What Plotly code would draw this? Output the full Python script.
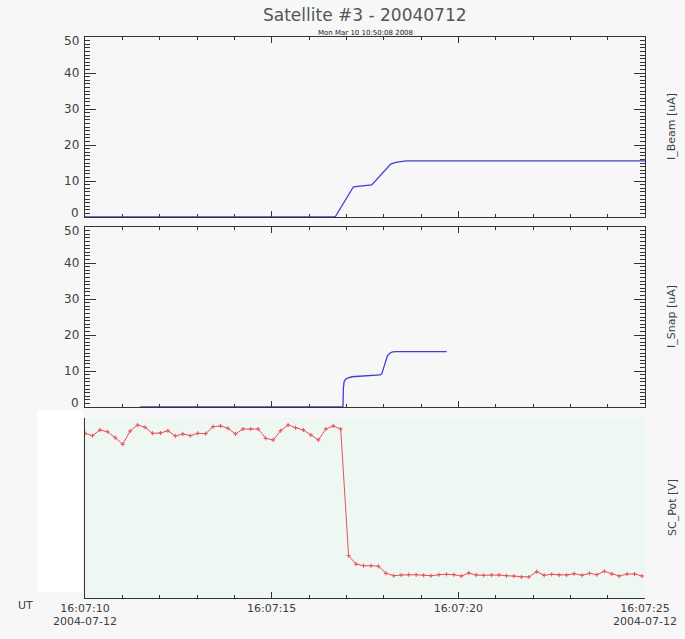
import pandas as pd
import plotly.graph_objects as go

# ---------------- data ----------------
T0 = "2004-07-12 16:07:10"

# I_Beam [uA]  (seconds after 16:07:10, value)
beam_t = [0.00, 6.70, 7.19, 7.42, 7.68, 8.19, 8.30, 8.45, 8.62, 15.00]
beam_v = [0.0, 0.0, 8.4, 8.6, 8.9, 14.7, 15.1, 15.4, 15.6, 15.6]

# I_Snap [uA]
snap_t = [1.47, 6.91, 6.92, 6.94, 6.98, 7.05, 7.15, 7.37, 7.90, 7.95, 7.99, 8.04,
          8.10, 8.17, 8.24, 8.35, 9.69]
snap_v = [0.0, 0.0, 5.0, 7.0, 7.7, 8.1, 8.4, 8.6, 8.9, 9.2, 10.4, 12.5,
          14.2, 15.0, 15.3, 15.4, 15.4]

# SC_Pot [V]
pot_t = [0.00, 0.20, 0.40, 0.60, 0.81, 1.01, 1.21, 1.41, 1.61, 1.81,
         2.02, 2.22, 2.42, 2.62, 2.82, 3.02, 3.23, 3.43, 3.63, 3.83,
         4.03, 4.23, 4.44, 4.64, 4.84, 5.04, 5.24, 5.44, 5.64, 5.85,
         6.05, 6.25, 6.45, 6.65, 6.85, 7.06, 7.26, 7.46, 7.66, 7.86,
         8.06, 8.27, 8.47, 8.67, 8.87, 9.07, 9.27, 9.48, 9.68, 9.88,
         10.08, 10.28, 10.48, 10.68, 10.89, 11.09, 11.29, 11.49, 11.69, 11.89,
         12.10, 12.30, 12.50, 12.70, 12.90, 13.10, 13.31, 13.51, 13.71, 13.91,
         14.11, 14.31, 14.52, 14.72, 14.92]
pot_v = [45.75, 45.08, 46.67, 46.19, 44.53, 42.69, 46.39, 48.06, 47.42, 45.75,
         45.83, 46.47, 45.00, 45.56, 45.08, 45.75, 45.64, 47.58, 47.78, 47.14,
         45.56, 46.94, 46.94, 46.94, 44.36, 43.89, 46.47, 48.06, 47.31, 46.67,
         45.28, 43.89, 46.94, 47.78, 46.94, 11.75, 9.44, 8.97, 8.97, 8.81,
         6.86, 6.19, 6.39, 6.47, 6.47, 6.31, 6.19, 6.47, 6.58, 6.47,
         6.11, 6.94, 6.39, 6.31, 6.39, 6.39, 6.19, 6.11, 5.83, 5.83,
         7.31, 6.31, 6.58, 6.39, 6.39, 6.75, 6.31, 6.86, 6.47, 7.42,
         6.67, 6.11, 6.67, 6.67, 6.11]

tick_secs = [0, 5, 10, 15]
tick_text = ["16:07:10", "16:07:15", "16:07:20", "16:07:25"]
date_secs = [0, 15]
date_text = "2004-07-12"
y_ticks = [0, 10, 20, 30, 40, 50]

title_text = "Satellite #3 - 20040712"
subtitle_text = "Mon Mar 10 10:50:08 2008"
panel_labels = ["I_Beam [uA]", "I_Snap [uA]", "SC_Pot [V]"]


def to_time(secs):
    return pd.Timestamp(T0) + pd.to_timedelta(secs, unit="s")


# ---------------- figure ----------------
W, H = 685, 639
L, R, TOP, BOT = 85, 40, 37, 41
ph = H - TOP - BOT  # plot height in px


def py(pix):  # pixel y -> paper y
    return (H - BOT - pix) / ph


def px(pix):
    return (pix - L) / (W - L - R)


BLUE = "#3f3fd6"
RED = "#e8505c"
AX = "#333333"
TXT = "#404040"
BG = "#f7f7f7"
FONT = "DejaVu Sans"

fig = go.Figure()
fig.add_trace(go.Scatter(x=to_time(beam_t), y=beam_v, mode="lines",
                         line=dict(color=BLUE, width=1.3), xaxis="x3", yaxis="y3"))
fig.add_trace(go.Scatter(x=to_time(snap_t), y=snap_v, mode="lines",
                         line=dict(color=BLUE, width=1.3), xaxis="x2", yaxis="y2"))
fig.add_trace(go.Scatter(x=to_time(pot_t), y=pot_v, mode="lines+markers",
                         line=dict(color=RED, width=1),
                         marker=dict(symbol="cross-thin", size=3, color=RED,
                                     line=dict(color=RED, width=1)),
                         xaxis="x", yaxis="y"))

x_range = [to_time(0), to_time(15)]
tickvals = list(to_time(tick_secs))

xcommon = dict(range=x_range, type="date", showline=True, linecolor=AX, linewidth=1,
               ticks="inside", ticklen=6, tickcolor=AX, tickvals=tickvals,
               minor=dict(dtick=1000, tick0=T0, ticks="inside", ticklen=3, tickcolor=AX),
               showgrid=False, zeroline=False, layer="below traces", fixedrange=True)

ycommon = dict(range=[0, 50], showline=True, linecolor=AX, linewidth=1, mirror="ticks",
               ticks="inside", ticklen=11, tickcolor=AX, tickvals=y_ticks,
               showticklabels=False,
               minor=dict(dtick=1, ticks="inside", ticklen=5, tickcolor=AX),
               showgrid=False, zeroline=False, layer="below traces", fixedrange=True)

d3 = [0, py(418)]
d2 = [py(407), py(227)]
d1 = [py(217), 1]

fig.update_layout(
    width=W, height=H,
    margin=dict(l=L, r=R, t=TOP, b=BOT),
    paper_bgcolor=BG, plot_bgcolor=BG,
    showlegend=False,
    font=dict(family=FONT, color=TXT),
    xaxis=dict(**xcommon, anchor="y", domain=[0, 1], ticktext=tick_text,
               tickfont=dict(family=FONT, size=11, color=TXT), mirror=False),
    xaxis2=dict(**xcommon, anchor="y2", domain=[0, 1], matches="x",
                showticklabels=False, mirror="ticks"),
    xaxis3=dict(**xcommon, anchor="y3", domain=[0, 1], matches="x",
                showticklabels=False, mirror="ticks"),
    yaxis=dict(range=[0, 50], domain=d3, anchor="x", showline=True, linecolor=AX,
               linewidth=1, ticks="", showticklabels=False, showgrid=False,
               zeroline=False, fixedrange=True),
    yaxis2=dict(**ycommon, domain=d2, anchor="x2"),
    yaxis3=dict(**ycommon, domain=d1, anchor="x3"),
    shapes=[
        dict(type="rect", xref="paper", yref="paper", x0=0, x1=1, y0=d3[0], y1=d3[1],
             fillcolor="#eff7f2", line=dict(width=0), layer="below"),
        dict(type="rect", xref="paper", yref="paper", x0=px(37), x1=px(83),
             y0=py(592), y1=py(410), fillcolor="#ffffff", line=dict(width=0), layer="above"),
    ],
)

ann = [
    dict(text=title_text, x=px(365), y=py(15), font=dict(size=17, color="#555555")),
    dict(text=subtitle_text, x=px(365), y=py(33), font=dict(size=7, color="#222222")),
    dict(text="UT", x=px(25), y=py(605), font=dict(size=11, color=TXT)),
]
for a in ann:
    a.update(xref="paper", yref="paper", xanchor="center", yanchor="middle")
for lab, dom in zip(panel_labels, [d1, d2, d3]):
    ann.append(dict(text=lab, x=px(672), y=(dom[0] + dom[1]) / 2, textangle=-90,
                    xref="paper", yref="paper", xanchor="center", yanchor="middle",
                    font=dict(size=11, color=TXT)))
# date line under first and last time labels
for s in date_secs:
    ann.append(dict(text=date_text, x=to_time(s), xref="x", y=py(613), yref="paper",
                    xanchor="center", yanchor="top", font=dict(size=11, color=TXT)))
# y tick labels (IDL style: end labels pulled inside the panel)
for yref in ["y2", "y3"]:
    for v in y_ticks:
        shift = -4 if v == max(y_ticks) else (4 if v == min(y_ticks) else 0)
        ann.append(dict(text=str(v), x=px(81), y=v, xref="paper", yref=yref,
                        xanchor="right", yanchor="middle", yshift=shift,
                        font=dict(size=12, color=TXT)))
for a in ann:
    a["showarrow"] = False
    a["font"]["family"] = FONT
fig.update_layout(annotations=ann)

fig.write_html("out.html", config={"displayModeBar": False},
               post_script="document.body.style.margin='0px';")
